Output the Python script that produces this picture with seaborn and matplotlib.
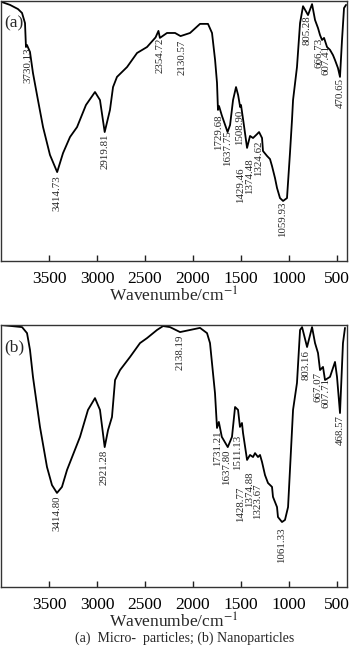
import numpy as np
import pandas as pd
import matplotlib
matplotlib.use("Agg")
import matplotlib.pyplot as plt
import seaborn as sns

# ---------------- data ----------------
wn_a = [3990, 3906, 3823, 3781, 3750, 3740, 3730, 3698, 3667, 3615, 3562, 3490, 3415,
        3354, 3281, 3208, 3115, 3021, 2969, 2920, 2865, 2833, 2792, 2687, 2583, 2479,
        2390, 2360, 2345, 2271, 2187, 2130, 2031, 1927, 1844, 1802, 1770, 1750, 1740,
        1729, 1700, 1640, 1614, 1583, 1552, 1530, 1509, 1500, 1470, 1437, 1406, 1375,
        1333, 1312, 1281, 1271, 1229, 1198, 1177, 1146, 1125, 1094, 1062, 1021, 990,
        969, 958, 917, 885, 854, 802, 760, 729, 698, 677, 656, 635, 604, 573, 542, 521,
        490, 469, 448, 427, 406]
t_a = [99.6, 98.5, 96.9, 95.4, 91.5, 82.3, 83.1, 80.4, 72.3, 61.9, 51.5, 40.8, 34.2,
       41.5, 47.7, 51.5, 60.0, 65.0, 61.9, 49.6, 58.1, 66.9, 70.8, 74.6, 80.0, 82.3,
       86.0, 88.5, 85.8, 87.7, 87.7, 86.5, 87.7, 91.2, 91.2, 87.7, 77.3, 68.5, 58.1,
       59.6, 56.0, 49.6, 52.3, 61.9, 66.9, 63.8, 59.2, 60.0, 52.3, 43.5, 48.1, 47.3,
       48.8, 49.6, 47.3, 42.3, 40.4, 39.2, 36.5, 31.9, 28.1, 24.2, 23.1, 24.2, 41.5,
       54.2, 61.9, 74.6, 91.5, 98.0, 94.6, 98.8, 92.7, 89.6, 86.9, 85.0, 85.8, 82.3,
       81.2, 79.2, 77.3, 74.2, 70.8, 85.0, 97.3, 98.5]

wn_b = [4000, 3781, 3729, 3698, 3667, 3594, 3521, 3469, 3417, 3365, 3312, 3177, 3094,
        3021, 2969, 2920, 2885, 2844, 2812, 2760, 2656, 2552, 2479, 2375, 2312, 2240,
        2135, 2031, 1927, 1854, 1823, 1771, 1750, 1731, 1700, 1638, 1594, 1562, 1531,
        1511, 1490, 1479, 1437, 1406, 1375, 1354, 1323, 1302, 1281, 1250, 1219, 1177,
        1167, 1125, 1115, 1073, 1042, 1010, 990, 958, 917, 885, 864, 812, 760, 729,
        698, 677, 646, 625, 573, 521, 500, 469, 438, 417]
t_b = [100.0, 99.2, 96.9, 90.5, 80.2, 61.1, 45.8, 38.9, 35.9, 38.2, 44.7, 57.3, 67.6,
       72.1, 67.6, 53.4, 59.9, 64.9, 79.0, 82.8, 87.8, 93.1, 95.0, 98.1, 99.6, 99.2,
       97.3, 98.1, 98.9, 96.9, 93.1, 74.0, 60.7, 63.0, 57.3, 53.4, 57.3, 68.7, 67.6,
       61.1, 62.6, 58.8, 48.5, 50.4, 49.6, 51.1, 49.6, 50.4, 47.7, 42.7, 39.7, 38.2,
       34.4, 30.5, 26.7, 24.8, 25.6, 30.5, 44.7, 67.6, 77.9, 98.1, 99.2, 91.6, 99.2,
       93.1, 89.3, 82.8, 84.0, 79.0, 80.2, 85.9, 80.2, 66.4, 93.1, 98.9]

labels_a = ["3730.13", "3414.73", "2919.81", "2354.72", "2130.57", "1729.68", "1637.75",
            "1508.90", "1429.46", "1374.48", "1324.62", "1059.93", "805.28", "666.73",
            "607.41", "470.65"]
labels_b = ["3414.80", "2921.28", "2138.19", "1731.21", "1637.80", "1511.13", "1428.77",
            "1374.88", "1323.67", "1061.33", "803.16", "667.07", "607.71", "468.57"]

xticks = [3500, 3000, 2500, 2000, 1500, 1000, 500]
xlabel = "Wavenumbe/cm$^{-1}$"
caption = "(a)  Micro-  particles; (b) Nanoparticles"
panel_tags = ["(a)", "(b)"]

# ---------------- layout (label anchor positions: x, top y) ----------------
pos_a = [(3719, 82.3), (3417, 33.1), (2917, 49.2), (2344, 85.8), (2115, 85.0),
         (1729, 56.2), (1635, 50.4), (1510, 58.1), (1500, 36.2), (1406, 39.6),
         (1312, 46.2), (1062, 22.7), (812, 94.6), (690, 85.8), (612, 83.1), (469, 70.4)]
pos_b = [(3417, 35.1), (2927, 52.3), (2135, 96.2), (1740, 59.9), (1646, 52.3),
         (1531, 58.0), (1500, 38.2), (1406, 43.9), (1323, 39.7), (1073, 22.9),
         (823, 90.5), (701, 82.1), (612, 79.8), (469, 65.6)]

sns.set_theme(style="white")
plt.rcParams["font.family"] = ["Liberation Serif", "DejaVu Serif"]
plt.rcParams["mathtext.fontset"] = "stix"

fig = plt.figure(figsize=(3.5, 6.49), dpi=100)
W, H = 350, 649
axes_px = [(1, 1, 347, 261), (1, 325, 347, 587)]

panels = [(wn_a, t_a, labels_a, pos_a), (wn_b, t_b, labels_b, pos_b)]
for i, ((x0, y0, x1, y1), (wn, tr, labs, pos)) in enumerate(zip(axes_px, panels)):
    ax = fig.add_axes([x0 / W, 1 - y1 / H, (x1 - x0) / W, (y1 - y0) / H])
    df = pd.DataFrame({"wn": wn, "T": tr})
    sns.lineplot(data=df, x="wn", y="T", ax=ax, color="black", lw=1.3, sort=True,
                 estimator=None)
    ax.set_xlim(4000, 396)
    ax.set_ylim(0, 100)
    ax.set_xticks(xticks)
    ax.set_xticklabels([str(t) for t in xticks], fontsize=12.5)
    ax.tick_params(axis="x", direction="in", length=4, width=1, pad=7,
                   bottom=True, colors="#222222", labelcolor="black")
    ax.set_yticks([])
    ax.set_ylabel("")
    ax.set_xlabel(xlabel, fontsize=12.5, labelpad=0)
    for s in ax.spines.values():
        s.set_color("#333333")
        s.set_linewidth(1.0)
    for lab, (px, py) in zip(labs, pos):
        ax.text(px, py, lab, rotation=90, ha="center", va="top", fontsize=7.8)
    ax.text(0.008, 0.915, panel_tags[i], transform=ax.transAxes,
            ha="left", va="center", fontsize=12.5)

fig.text(185 / W, 1 - 638 / H, caption, ha="center", va="center", fontsize=10)
fig.savefig("out.png", dpi=100)
